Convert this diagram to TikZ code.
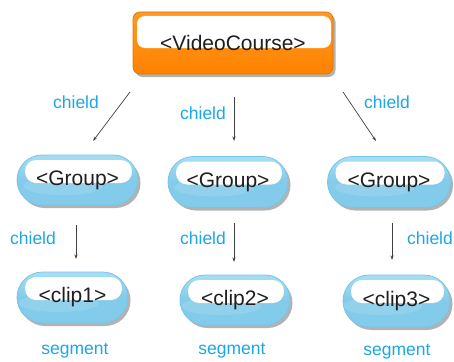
\documentclass[tikz,border=0pt]{standalone}
\usepackage{fontspec}
\setmainfont{Liberation Sans}
\usetikzlibrary{shapes.misc,shadows,arrows.meta}

\definecolor{orangetop}{HTML}{FF9A24}
\definecolor{orangebot}{HTML}{FF8200}
\definecolor{orangeedge}{HTML}{E27400}
\definecolor{captop}{HTML}{A8DEF3}
\definecolor{capbot}{HTML}{82CBEA}
\definecolor{capedge}{HTML}{78C6E7}
\definecolor{labelblue}{HTML}{1AA7E6}
\definecolor{arrowgray}{HTML}{404040}

\tikzset{
  x=1pt, y=-1pt,
  nodetext/.style={font=\fontsize{21}{24}\selectfont, text=black!88},
  rootbox/.style={
    nodetext, rectangle, rounded corners=7pt,
    minimum width=200pt, minimum height=62pt, inner sep=0pt,
    draw=orangeedge, line width=0.7pt,
    top color=orangetop, bottom color=orangebot,
    drop shadow={shadow xshift=2.5pt, shadow yshift=-3pt, opacity=0.3, fill=black},
    path picture={
      \fill[white, rounded corners=8pt]
        ([xshift=4pt,yshift=-4pt]path picture bounding box.north west)
        rectangle ([xshift=-2pt,yshift=-36pt]path picture bounding box.north east);
    }
  },
  capsule/.style={
    nodetext, rounded rectangle, inner sep=0pt,
    draw=capedge, line width=0.8pt,
    top color=captop, bottom color=capbot, middle color=capbot,
    drop shadow={shadow xshift=2.5pt, shadow yshift=-3pt, opacity=0.3, fill=black},
    path picture={
      \fill[white, rounded corners=11pt]
        ([xshift=8pt,yshift=-5pt]path picture bounding box.north west)
        rectangle ([xshift=-6pt,yshift=-28pt]path picture bounding box.north east);
      \fill[white, opacity=0.12]
        ([xshift=-14pt,yshift=-31pt]path picture bounding box.north)
        ellipse [x radius=40pt, y radius=9pt];
    }
  },
  relation/.style={font=\fontsize{17.5}{20}\selectfont, text=labelblue},
  link/.style={draw=arrowgray, line width=0.7pt, -{Stealth[length=4.5pt,width=3pt]}}
}

\begin{document}
\begin{tikzpicture}
  \useasboundingbox (0,0) rectangle (454,361);

  % root element
  \node[rootbox] (course) at (233,43) {\textless VideoCourse\textgreater};

  % groups
  \node[capsule, minimum width=121pt, minimum height=50pt] (g1) at (77.5,180) {\textless Group\textgreater};
  \node[capsule, minimum width=120pt, minimum height=51pt] (g2) at (228,182) {\textless Group\textgreater};
  \node[capsule, minimum width=123pt, minimum height=51pt] (g3) at (389,182) {\textless Group\textgreater};

  % clips
  \node[capsule, minimum width=111pt, minimum height=51pt] (c1) at (72.5,297.5) {\textless clip1\textgreater};
  \node[capsule, minimum width=110pt, minimum height=50pt] (c2) at (235,300) {\textless clip2\textgreater};
  \node[capsule, minimum width=107pt, minimum height=52pt] (c3) at (396.5,301) {\textless clip3\textgreater};

  % arrow end points
  \coordinate (a1s) at (130,92);  \coordinate (a1e) at (93,141);
  \coordinate (a2s) at (234,97);  \coordinate (a2e) at (234,141);
  \coordinate (a3s) at (343,92);  \coordinate (a3e) at (376,141);
  \coordinate (b1s) at (76,225);  \coordinate (b1e) at (76,259);
  \coordinate (b2s) at (234,223); \coordinate (b2e) at (234,262);
  \coordinate (b3s) at (392,223); \coordinate (b3e) at (392,260);

  \draw[link] (a1s) -- (a1e);
  \draw[link] (a2s) -- (a2e);
  \draw[link] (a3s) -- (a3e);
  \draw[link] (b1s) -- (b1e);
  \draw[link] (b2s) -- (b2e);
  \draw[link] (b3s) -- (b3e);

  % relation labels
  \node[relation] (l1) at (76,102) {chield};
  \node[relation] (l2) at (203,113) {chield};
  \node[relation] (l3) at (387,102) {chield};
  \node[relation] (l4) at (33,238) {chield};
  \node[relation] (l5) at (203,238) {chield};
  \node[relation] (l6) at (430,238) {chield};

  \node[relation] (s1) at (75,351) {segment};
  \node[relation] (s2) at (232,351) {segment};
  \node[relation] (s3) at (397,352) {segment};
\end{tikzpicture}
\end{document}
